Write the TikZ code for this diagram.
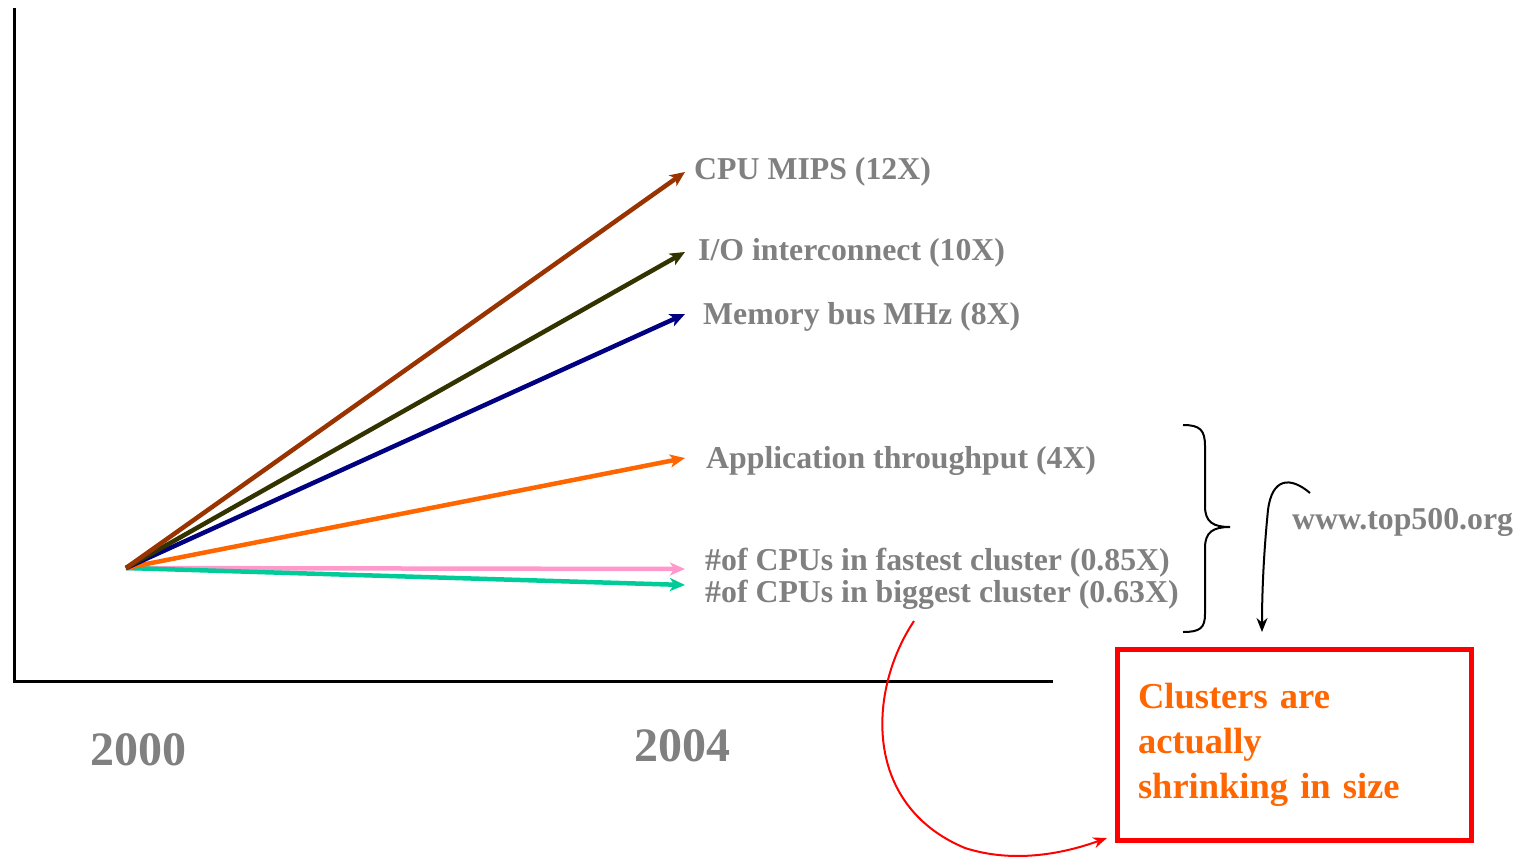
\documentclass[tikz,border=0pt]{standalone}
\usepackage{fontspec}
\setmainfont{Liberation Serif}
\usetikzlibrary{arrows.meta}
\definecolor{cpubrown}{HTML}{993300}
\definecolor{ioolive}{HTML}{333300}
\definecolor{memnavy}{HTML}{000080}
\definecolor{apporange}{HTML}{FF6600}
\definecolor{fastpink}{HTML}{FF99CC}
\definecolor{biggreen}{HTML}{00CC99}
\definecolor{labelgray}{HTML}{808080}
\tikzset{
  growth/.style={line width=4.5pt, -{Stealth[length=15pt,width=13pt,inset=4pt]}},
  trendlabel/.style={anchor=west, inner sep=0pt, text=labelgray,
    font=\fontsize{31.8}{36}\selectfont\bfseries},
  yearlabel/.style={inner sep=0pt, text=labelgray,
    font=\fontsize{48}{56}\selectfont\bfseries},
  axis/.style={line width=3pt, black},
  note/.style={line width=2pt, -{Stealth[length=14pt,width=11pt]}}
}
\begin{document}
\begin{tikzpicture}[x=1pt,y=-1pt]
  \useasboundingbox[fill=white] (0,0) rectangle (1535,857);

  % axes
  \coordinate (ytop) at (14,8);
  \coordinate (corner) at (14,681);
  \coordinate (xend) at (1053,681);
  \draw[axis] (ytop) -- (corner) -- (xend);

  % common start and arrow tips
  \coordinate (origin) at (126,568);
  \coordinate (tcpu) at (685,172);
  \coordinate (tio) at (685,252);
  \coordinate (tmem) at (685,314);
  \coordinate (tapp) at (685,458);
  \coordinate (tfast) at (685,569);
  \coordinate (tbig) at (685,585);

  \draw[growth, fastpink] (origin) -- (tfast);
  \draw[growth, biggreen] (origin) -- (tbig);
  \draw[growth, apporange] (origin) -- (tapp);
  \draw[growth, memnavy] (origin) -- (tmem);
  \draw[growth, ioolive] (origin) -- (tio);
  \draw[growth, cpubrown] (origin) -- (tcpu);

  % trend labels
  \node[trendlabel] (lcpu) at (694,172) {CPU MIPS (12X)};
  \node[trendlabel] (lio) at (698,253) {I/O interconnect (10X)};
  \node[trendlabel] (lmem) at (703,317) {Memory bus MHz (8X)};
  \node[trendlabel] (lapp) at (706,461) {Application throughput (4X)};
  \node[trendlabel] (lfast) at (705,563) {\#of CPUs in fastest cluster (0.85X)};
  \node[trendlabel] (lbig) at (705,595) {\#of CPUs in biggest cluster (0.63X)};
  \node[trendlabel] (src) at (1292,522) {www.top500.org};

  % years
  \node[yearlabel] (y2000) at (138,750) {2000};
  \node[yearlabel] (y2004) at (682,746) {2004};

  % brace grouping the lower four trends
  \draw[line width=2pt, black]
    (1183,425) .. controls (1200,425) and (1205,430) .. (1205,446)
    -- (1205,506) .. controls (1205,522) and (1213,527) .. (1230,527)
    .. controls (1213,527) and (1205,532) .. (1205,548)
    -- (1205,614) .. controls (1205,628) and (1200,632) .. (1183,632);

  % conclusion box
  \node[draw=red, line width=5pt, minimum width=354pt, minimum height=191pt,
        text width=312pt, inner xsep=21pt, inner ysep=0pt, align=left,
        text=apporange, font=\fontsize{36.5}{45}\selectfont\bfseries]
    (box) at (1294,744.5) {\raisebox{-3pt}{Clusters are}\\\raisebox{-3pt}{actually}\\\raisebox{-3pt}{shrinking in size}};

  % source pointer
  \coordinate (srcstart) at (1310,493);
  \coordinate (srcend) at (1262,632);
  \draw[note, black] (srcstart) .. controls (1290,476) and (1272,478) .. (1268,510)
    .. controls (1263,560) and (1262,600) .. (srcend);

  % pointer from the biggest-cluster trend to the box
  \coordinate (bigstart) at (914,621);
  \coordinate (boxin) at (1107,838);
  \draw[note, red] (bigstart) .. controls (868,690) and (862,805) .. (965,848)
    .. controls (1015,864) and (1065,853) .. (boxin);
\end{tikzpicture}
\end{document}
